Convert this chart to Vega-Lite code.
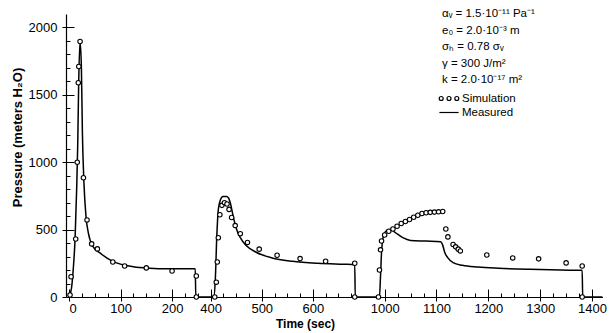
{
  "$schema": "https://vega.github.io/schema/vega-lite/v6.json",
  "width": 539,
  "height": 283,
  "autosize": {"type": "none"},
  "padding": {"left": 66, "top": 14, "right": 6, "bottom": 36},
  "background": "white",
  "config": {
    "view": {"stroke": null},
    "font": "Liberation Sans",
    "axis": {"grid": false, "domainColor": "black", "domainWidth": 1.2, "tickColor": "black", "labelColor": "black", "titleColor": "black", "labelOverlap": false}
  },
  "resolve": {"axis": {"x": "independent", "y": "independent"}},
  "layer": [
    {
      "data": {"values": [
        {"t":0,"p":0},{"t":5,"p":70},{"t":8.5,"p":220},{"t":11.7,"p":424},{"t":15,"p":818},{"t":17,"p":1145},{"t":18.8,"p":1590},{"t":21.4,"p":1896},{"t":24,"p":1710},{"t":26,"p":1219},{"t":29,"p":847},{"t":33,"p":595},{"t":37.5,"p":476},{"t":47,"p":372},{"t":60,"p":327},{"t":86,"p":262},{"t":125,"p":225},{"t":157,"p":214},{"t":190,"p":210},{"t":245,"p":210},{"t":246,"p":0},
        {"t":395,"p":0},{"t":406,"p":0},{"t":409,"p":120},{"t":412,"p":450},{"t":415,"p":650},{"t":419,"p":720},{"t":424,"p":745},{"t":431,"p":745},{"t":435,"p":735},{"t":439,"p":690},{"t":444,"p":600},{"t":450,"p":510},{"t":458,"p":440},{"t":470,"p":380},{"t":490,"p":330},{"t":520,"p":290},{"t":560,"p":265},{"t":610,"p":250},{"t":660,"p":243},{"t":682,"p":240},{"t":683,"p":0},
        {"t":990,"p":0},{"t":992,"p":150},{"t":994,"p":330},{"t":997,"p":440},{"t":1003,"p":490},{"t":1012,"p":500},{"t":1020,"p":480},{"t":1035,"p":440},{"t":1050,"p":420},{"t":1080,"p":415},{"t":1108,"p":410},{"t":1112,"p":385},{"t":1116,"p":330},{"t":1122,"p":290},{"t":1132,"p":255},{"t":1150,"p":235},{"t":1180,"p":222},{"t":1220,"p":213},{"t":1280,"p":205},{"t":1340,"p":200},{"t":1381,"p":198},{"t":1382,"p":0},{"t":1420,"p":0}
      ]},
      "mark": {"type": "line", "strokeWidth": 1.5, "interpolate": "monotone"},
      "encoding": {
        "x": {
          "field": "t", "type": "quantitative",
          "scale": {"domain": [0, 260, 385, 705, 965, 1420], "range": [3, 137, 137, 300.5, 300.5, 536.4], "nice": false, "zero": false},
          "axis": {
            "orient": "bottom",
            "values": [0,100,200,400,500,600,1000,1100,1200,1300,1400],
            "format": "d",
            "ticks": true,
            "tickSize": 4,
            "tickWidth": 1,
            "labelFontSize": 13,
            "labelPadding": 1,
            "title": "Time  (sec)",
            "titleFontSize": 12,
            "titleFontWeight": "bold",
            "titleX": 239,
            "titleY": 26,
            "titleAlign": "center",
            "titleBaseline": "middle"
          }
        },
        "y": {
          "field": "p", "type": "quantitative",
          "scale": {"domain": [0, 2100], "nice": false},
          "axis": {
            "orient": "left",
            "values": [0,500,1000,1500,2000],
            "format": "d",
            "ticks": true,
            "tickSize": 4,
            "tickWidth": 1,
            "labelFontSize": 13,
            "labelPadding": 5,
            "title": "Pressure  (meters H₂O)",
            "titleFontSize": 13,
            "titleFontWeight": "bold",
            "titleX": -49,
            "titleY": 123,
            "titleAlign": "center",
            "titleBaseline": "middle"
          }
        },
        "color": {
          "datum": "Measured",
          "scale": {"domain": ["Simulation", "Measured"], "range": ["black", "black"]},
          "legend": {
            "orient": "none",
            "legendX": 376,
            "legendY": -6,
            "padding": 0,
            "title": ["αᵥ = 1.5·10⁻¹¹ Pa⁻¹", "e₀ = 2.0·10⁻³ m", "σₕ = 0.78 σᵥ", "γ = 300 J/m²", "k = 2.0·10⁻¹⁷ m²"],
            "titleFontSize": 11.5,
            "titleFontWeight": "normal",
            "titleLineHeight": 16.5,
            "titlePadding": 6,
            "labelFontSize": 11.5,
            "labelOffset": 6,
            "symbolSize": 144,
            "rowPadding": 1,
            "encode": {"symbols": {"update": {
              "shape": {"signal": "datum.value === 'Simulation' ? 'M-1.63,0a0.33,0.33 0 1,0 0.66,0a0.33,0.33 0 1,0 -0.66,0M-0.33,0a0.33,0.33 0 1,0 0.66,0a0.33,0.33 0 1,0 -0.66,0M0.97,0a0.33,0.33 0 1,0 0.66,0a0.33,0.33 0 1,0 -0.66,0' : 'M-1.6,0H1.6'"},
              "fill": {"value": "transparent"},
              "stroke": {"value": "black"},
              "strokeWidth": {"value": 1.2}
            }}}
          }
        }
      }
    },
    {
      "data": {"values": [
        {"t":2,"p":15},{"t":4,"p":150},{"t":13,"p":430},{"t":16,"p":1000},{"t":18,"p":1590},{"t":19,"p":1710},{"t":21.5,"p":1896},{"t":28,"p":885},{"t":35,"p":572},{"t":44,"p":394},{"t":55,"p":357},{"t":85,"p":260},{"t":108,"p":230},{"t":150,"p":216},{"t":200,"p":193},{"t":247,"p":156},{"t":247,"p":0},
        {"t":408,"p":0},{"t":411,"p":110},{"t":413,"p":260},{"t":415,"p":440},{"t":418,"p":610},{"t":422,"p":680},{"t":427,"p":700},{"t":432,"p":690},{"t":436,"p":650},{"t":441,"p":590},{"t":448,"p":530},{"t":458,"p":470},{"t":472,"p":405},{"t":495,"p":355},{"t":530,"p":310},{"t":575,"p":285},{"t":625,"p":265},{"t":682,"p":250},{"t":682,"p":0},
        {"t":988,"p":0},{"t":990,"p":200},{"t":992,"p":350},{"t":994,"p":416},{"t":1000,"p":460},{"t":1008,"p":488},{"t":1016,"p":505},{"t":1024,"p":525},{"t":1032,"p":545},{"t":1040,"p":560},{"t":1048,"p":575},{"t":1056,"p":592},{"t":1064,"p":607},{"t":1072,"p":620},{"t":1080,"p":625},{"t":1088,"p":628},{"t":1096,"p":630},{"t":1104,"p":632},{"t":1112,"p":634},{"t":1118,"p":505},{"t":1122,"p":446},{"t":1132,"p":390},{"t":1137,"p":372},{"t":1142,"p":355},{"t":1146,"p":342},{"t":1197,"p":312},{"t":1247,"p":290},{"t":1297,"p":283},{"t":1350,"p":253},{"t":1381,"p":230},{"t":1381,"p":0}
      ]},
      "mark": {"type": "point", "filled": false, "fill": "white", "strokeWidth": 1.1, "size": 20, "opacity": 1},
      "encoding": {
        "x": {"field": "t", "type": "quantitative", "axis": {
          "orient": "top",
          "values": [0,25,50,75,100,125,150,175,200,225,250,400,425,450,475,500,525,550,575,600,625,650,675,1000,1025,1050,1075,1100,1125,1150,1175,1200,1225,1250,1275,1300,1325,1350,1375,1400],
          "ticks": true, "tickSize": 8, "tickWidth": 1, "offset": -283,
          "tickDash": {"condition": {"test": "datum.value % 100 !== 0", "value": [4, 20]}, "value": [20, 0]},
          "labels": false, "domain": false, "title": null}},
        "y": {"field": "p", "type": "quantitative", "axis": {
          "orient": "right",
          "values": [0,100,200,300,400,500,600,700,800,900,1000,1100,1200,1300,1400,1500,1600,1700,1800,1900,2000],
          "ticks": true, "tickSize": 8, "tickWidth": 1, "offset": -539,
          "tickDash": {"condition": {"test": "datum.value % 500 !== 0", "value": [4, 20]}, "value": [20, 0]},
          "labels": false, "domain": false, "title": null}},
        "color": {"datum": "Simulation"}
      }
    }
  ]
}
